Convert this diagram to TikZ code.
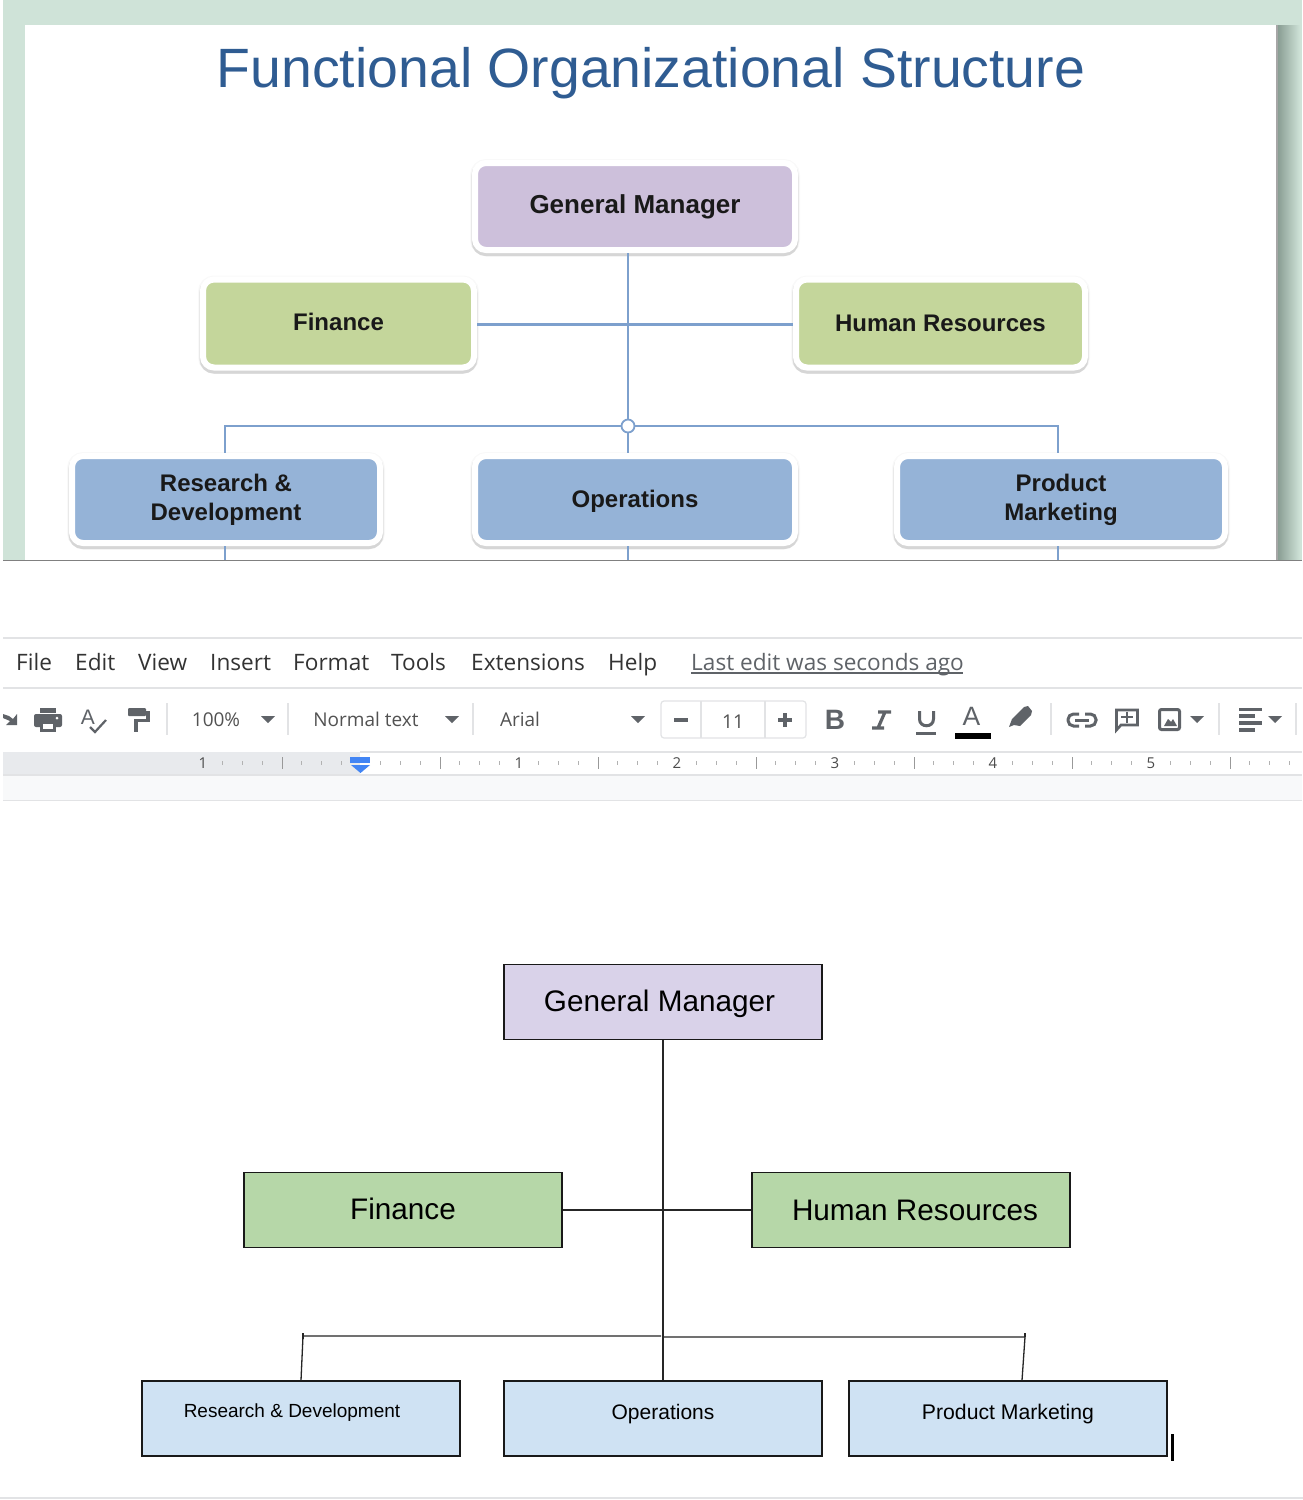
\documentclass[tikz,border=0pt]{standalone}
\usepackage{fontspec}
\setmainfont{Liberation Sans}
\newfontfamily\uifont{Open Sans}
\usetikzlibrary{
    calc,
    positioning
}
\definecolor{slidegreen}{RGB}{207,227,216}
\definecolor{slideedge}{RGB}{135,155,145}
\definecolor{slideline}{RGB}{125,160,205}
\definecolor{titleblue}{RGB}{47,92,146}
\definecolor{purpleA}{RGB}{205,192,219}
\definecolor{greenA}{RGB}{196,214,155}
\definecolor{blueA}{RGB}{149,179,215}
\definecolor{purpleB}{RGB}{217,210,233}
\definecolor{greenB}{RGB}{182,215,168}
\definecolor{blueB}{RGB}{207,226,243}
\definecolor{uigray}{RGB}{95,99,104}
\definecolor{uirule}{RGB}{226,227,229}
\definecolor{rulerbg}{RGB}{232,234,237}
\definecolor{rulerlow}{RGB}{248,249,250}
\definecolor{markerblue}{RGB}{66,133,244}
\newcommand{\fsize}[1]{\fontsize{#1}{#1}\selectfont}
\newcommand{\offtext}[3]{\hspace*{#1pt}\raisebox{#2pt}{#3}}
\tikzset{
    slidebox/.style={draw=white, line width=6pt, rounded corners=11pt, fill=#1,
        preaction={draw=black, draw opacity=.025, line width=10pt, transform canvas={yshift=-1pt}},
        preaction={draw=black, draw opacity=.05, line width=8pt, transform canvas={yshift=-2pt}},
        preaction={draw=black, draw opacity=.09, line width=6.5pt, transform canvas={yshift=-3pt}},
        align=center, inner sep=0pt, font=\fsize{24}\bfseries, text=black!90},
    docbox/.style={draw=black!90, line width=1.2pt, fill=#1, minimum width=318pt,
        minimum height=75pt, inner sep=0pt},
    slideline/.style={draw=slideline, line width=2.2pt},
    docline/.style={draw=black!85, line width=1.3pt},
    menulabel/.style={anchor=west, inner sep=0pt, text height=17pt, text depth=5pt,
        font=\uifont\fsize{22.6}, text=black!80},
    toollabel/.style={inner sep=0pt, text height=14pt, text depth=0pt, font=\uifont\fsize{19}, text=black!68},
    iconlabel/.style={inner sep=0pt, text=uigray},
    rulerlabel/.style={inner sep=0pt, font=\uifont\fsize{15}, text=black!70},
    iconfill/.style={fill=uigray, draw=none},
    iconline/.style={draw=uigray, line width=3pt},
    caret/.style={fill=uigray, draw=none},
    sepline/.style={draw=uirule, line width=1.2pt}
}
\newcommand{\caretat}[1]{\fill[caret] (#1,716) -- ++(14,0) -- ++(-7,7) -- cycle;}
\begin{document}
\begin{tikzpicture}[x=1pt, y=-1pt]
    \useasboundingbox (0,0) rectangle (1303,1500);
    \fill[white] (0,0) rectangle (1303,1500);
    \fill[slidegreen] (3,0) rectangle (1302,560);
    \shade[left color=slideedge, right color=slidegreen] (1277,25) rectangle (1300,560);
    \fill[white] (25,25) rectangle (1277,560);
    \draw[black!35, line width=1.5pt] (1277,25) -- (1277,560);
    \node[inner sep=0pt, text=titleblue, font=\fsize{55.4}] (title) at (651,73) {Functional Organizational Structure};

    \node[slidebox=purpleA, minimum width=320pt, minimum height=87pt, font=\fsize{26}\bfseries] (gmtop) at (635,206.5) {General Manager};
    \node[slidebox=greenA, minimum width=271pt, minimum height=88pt] (fintop) at (338.5,323.5) {\offtext{0}{3}{Finance}};
    \node[slidebox=greenA, minimum width=289pt, minimum height=88pt] (hrtop) at (940.5,323.5) {Human Resources};
    \node[slidebox=blueA, minimum width=308pt, minimum height=87pt] (rdtop) at (226,499.5) {Research \&\\[5pt]Development};
    \node[slidebox=blueA, minimum width=320pt, minimum height=87pt, text height=17.5pt, text depth=1pt] (optop) at (635,499.5) {Operations};
    \node[slidebox=blueA, minimum width=328pt, minimum height=87pt] (pmtop) at (1061,499.5) {Product\\[5pt]Marketing};

    \coordinate (hub) at (628,426);
    \coordinate (rdturn) at (225,426);
    \coordinate (pmturn) at (1058,426);
    \coordinate (rdend) at (225,560);
    \coordinate (opend) at (628,560);
    \coordinate (pmend) at (1058,560);

    \draw[slideline] (gmtop.south -| hub) -- (hub);
    \draw[slideline] ($(fintop.east)+(0,1)$) -- ($(hrtop.west)+(0,1)$);
    \draw[slideline] (hub) -- (rdturn) -- (rdturn |- rdtop.north);
    \draw[slideline] (hub) -- (pmturn) -- (pmturn |- pmtop.north);
    \draw[slideline] (hub) -- (hub |- optop.north);
    \draw[slideline] (rdend |- rdtop.south) -- (rdend);
    \draw[slideline] (opend |- optop.south) -- (opend);
    \draw[slideline] (pmend |- pmtop.south) -- (pmend);
    \node[draw=slideline, fill=white, circle, line width=1.8pt, minimum size=13pt, inner sep=0pt] (hubdot) at (hub) {};
    \draw[black!50, line width=1.2pt] (3,560.5) -- (1302,560.5);

    \draw[sepline] (3,638) -- (1302,638);
    \draw[sepline] (3,688) -- (1302,688);
    \foreach \name/\xpos in {File/16, Edit/75, View/138, Insert/210, Format/293, Tools/391, Extensions/471, Help/608}
        \node[menulabel] (menu\name) at (\xpos,664) {\name};
    \node[menulabel, text=uigray] (lastedit) at (691,664) {Last edit was seconds ago};
    \draw[uigray, line width=1.5pt] (691,673) -- (963,673);

    \foreach \xpos in {167, 288, 473, 1051, 1219, 1296}
        \draw[sepline] (\xpos,703) -- (\xpos,735);
    \node[toollabel] (zoomlabel) at (216,719) {100\%};
    \node[toollabel] (stylelabel) at (366,719) {Normal text};
    \node[toollabel] (fontlabel) at (520,719) {Arial};
    \caretat{261} \caretat{445} \caretat{631} \caretat{1190} \caretat{1268}

    \fill[iconfill] (3,714) -- (9,716) -- (13,719) -- (17,714) -- (17,725) -- (6,725) -- (10,721) -- (3,718) -- cycle;
    \fill[iconfill, rounded corners=2pt] (34,714) rectangle (62,727);
    \fill[iconfill] (40,708) rectangle (56,712.5);
    \fill[iconfill] (40,722) rectangle (56,732);
    \fill[white] (43,724) rectangle (53,729);
    \fill[white] (57,718) circle (1.5);
    \node[iconlabel, font=\fsize{21}] (spellicon) at (88,717) {A};
    \draw[iconline, line width=2.2pt] (90,727) -- (95,732) -- (106,720);
    \fill[iconfill, rounded corners=1pt] (128,708) rectangle (146,716);
    \fill[iconfill] (146,711) rectangle (150,722);
    \fill[iconfill] (134,719) rectangle (150,722);
    \fill[iconfill] (134,719) rectangle (138,732);

    \draw[draw=uirule, line width=1.2pt, rounded corners=3pt] (661,701) rectangle (806,738);
    \draw[sepline] (701,701) -- (701,738);
    \draw[sepline] (765,701) -- (765,738);
    \draw[iconline, line width=3.5pt] (674,720) -- (688,720);
    \draw[iconline, line width=3.5pt] (778,720) -- (792,720);
    \draw[iconline, line width=3.5pt] (785,713) -- (785,727);
    \node[toollabel] (sizelabel) at (733,721) {11};
    \node[iconlabel, font=\fsize{28}\bfseries] (boldicon) at (835,720) {B};
    \draw[iconline, line width=3.2pt] (878,712) -- (891,712) (885,712) -- (878,728) (872,728) -- (884,728);
    \draw[iconline] (919.5,711) -- (919.5,719) .. controls (919.5,728) and (933.5,728) .. (933.5,719) -- (933.5,711);
    \fill[iconfill] (916,732) rectangle (936,735);
    \node[iconlabel, font=\fsize{26.5}] (coloricon) at (971.5,716.5) {A};
    \fill[black] (955,733) rectangle (991,739);
    \fill[iconfill] (1009,727) -- (1012,719) -- (1024,707) -- (1028,706) -- (1032,711) -- (1031,715) -- (1020,726) -- (1014,725) -- cycle;
    \draw[iconline, rounded corners=5.5pt] (1079,714) -- (1068,714) -- (1068,726) -- (1079,726);
    \draw[iconline, rounded corners=5.5pt] (1085,714) -- (1096,714) -- (1096,726) -- (1085,726);
    \draw[iconline] (1075,720) -- (1089,720);
    \draw[iconline, line width=2.6pt] (1116.5,710) -- (1137.5,710) -- (1137.5,725) -- (1121,725) -- (1116.5,730) -- cycle;
    \draw[iconline, line width=2.6pt] (1121,717) -- (1133,717) (1127,711.5) -- (1127,722.5);
    \draw[iconline, rounded corners=2pt] (1159.5,709.5) rectangle (1179.5,729.5);
    \fill[iconfill] (1164,726) -- (1168,719) -- (1171,722) -- (1173,719) -- (1177,726) -- cycle;
    \draw[iconline, line width=3.5pt] (1239,709.5) -- (1262,709.5) (1239,716) -- (1255,716) (1239,723) -- (1262,723) (1239,730) -- (1255,730);

    \fill[rulerbg] (3,752) rectangle (360,775);
    \fill[rulerlow] (3,775) rectangle (1302,800);
    \draw[sepline] (360,752) -- (1302,752);
    \draw[sepline] (3,775) -- (1302,775);
    \draw[sepline] (3,800.5) -- (1302,800.5);
    \foreach \k in {-15,...,39} {
        \pgfmathsetmacro{\xtick}{519+19.75*\k}
        \pgfmathtruncatemacro{\rest}{mod(\k+80,8)}
        \ifnum\rest=4
            \draw[black!40, line width=.9pt] (\xtick,757) -- (\xtick,769);
        \else
            \ifnum\rest=0\else
                \draw[black!30, line width=.9pt] (\xtick,761) -- (\xtick,765);
            \fi
        \fi
    }
    \foreach \num/\xpos in {1/203, 1/519, 2/677, 3/835, 4/993, 5/1151}
        \node[rulerlabel] (ruler\xpos) at (\xpos,763) {\num};
    \fill[markerblue] (350,757) rectangle (370,763);
    \fill[markerblue] (351,765) -- (370,765) -- (360.5,773) -- cycle;

    \node[docbox=purpleB, text height=25pt, text depth=6pt] (gm) at (663,1002) {\hspace*{-7pt}\fsize{29.7}General Manager};
    \node[docbox=greenB] (fin) at (403,1210) {\offtext{0}{2}{\fsize{29.7}Finance}};
    \node[docbox=greenB] (hr) at (911,1210) {\offtext{8}{0}{\fsize{29.7}Human Resources}};
    \node[docbox=blueB] (rd) at (301,1418.5) {\offtext{-18}{15}{\fsize{19}Research \& Development}};
    \node[docbox=blueB] (op) at (663,1418.5) {\offtext{0}{14}{\fsize{21}Operations}};
    \node[docbox=blueB] (pm) at (1008,1418.5) {\offtext{0}{14}{\fsize{21.2}Product Marketing}};

    \coordinate (rdbend) at (303,1336);
    \coordinate (leftjoin) at (661,1336);
    \coordinate (rightjoin) at (663,1337);
    \coordinate (pmbend) at (1025,1337);

    \draw[docline] (gm.south) -- (op.north);
    \draw[docline] (fin.east) -- (hr.west);
    \draw[docline] (rd.north) -- (rdbend) -- (leftjoin);
    \draw[docline] (rightjoin) -- (pmbend) -- ($(pm.north)+(14,0)$);
    \draw[docline] ($(rdbend)+(0,-3)$) -- ($(rdbend)+(0,3)$);
    \draw[docline] ($(pmbend)+(0,-4)$) -- (pmbend);
    \draw[black, line width=3pt] (1172,1434) -- (1172,1461);
    \draw[sepline] (0,1498) -- (1303,1498);
\end{tikzpicture}
\end{document}
